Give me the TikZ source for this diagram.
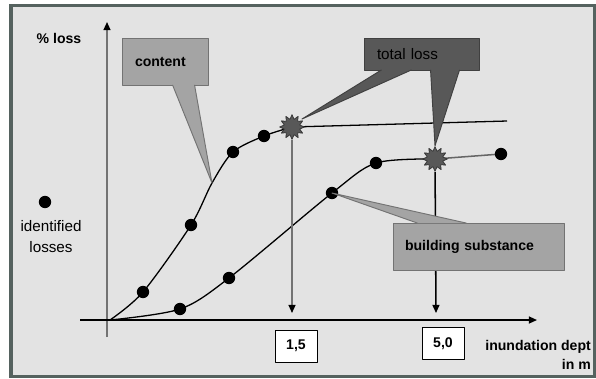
\documentclass[tikz,border=0pt]{standalone}
\usepackage{fontspec}
\setmainfont{Liberation Sans}
\usetikzlibrary{arrows.meta,shapes.geometric}
\definecolor{panel}{HTML}{E3E3E3}
\definecolor{frame}{HTML}{55625F}
\definecolor{lightbox}{HTML}{A4A4A4}
\definecolor{darkbox}{HTML}{585858}
\pgfdeclarelayer{bg}
\pgfsetlayers{bg,main}
\tikzset{
  dot/.style={circle,fill=black,inner sep=0pt,minimum size=3.7mm},
  burst/.style={star,star points=12,star point ratio=1.55,fill=darkbox,draw=black!80,line width=0.6pt,inner sep=0pt,minimum size=7.4mm},
  callbox/.style={draw=black!55,fill=lightbox,line width=0.8pt,inner xsep=0.39cm,align=left,minimum height=1.41cm,font=\bfseries\fontsize{12}{14}\selectfont},
  valbox/.style={draw=black,fill=white,line width=0.6pt,minimum width=1.26cm,minimum height=0.96cm,font=\bfseries\fontsize{12}{14}\selectfont},
  axis/.style={line width=1.3pt,-{Triangle[length=7pt,width=6pt,color=black]}},
}

\begin{document}
\begin{tikzpicture}[line join=round,x=0.03cm,y=-0.03cm]
            \useasboundingbox (0,0) rectangle (596,378);
            % marks on the two curves
            \node[dot] (c1) at (143,292) {};
            \node[dot] (c2) at (191,225) {};
            \node[dot] (c3) at (233,152) {};
            \node[dot] (c4) at (264,136) {};
            \node[dot] (b1) at (180,309) {};
            \node[dot] (b2) at (229,278) {};
            \node[dot] (b3) at (332,193) {};
            \node[dot] (b4) at (376,163) {};
            \node[dot] (b5) at (501,154) {};
            \node[burst] (s1) at (292,127) {};
            \node[burst] (s2) at (435,159) {};
            \node[dot] (leg) at (45,202) {};
            \coordinate (o) at (110,320);
            \coordinate (xl) at (80,320);
            \coordinate (xr) at (537,320);
            \coordinate (yb) at (107,337);
            \coordinate (yt) at (107,22);
            \coordinate (ctip) at (212,183);
            \coordinate (cend) at (507,121);
            \coordinate (t1) at (302,119);
            \coordinate (d1) at (292,313);
            \coordinate (d2) at (436,313);
            \begin{pgfonlayer}{bg}
                \draw [line width=2.6pt,color=frame,fill=panel] (11,5.5) rectangle (594.5,376.5);
                \draw [axis,draw=black!55] (yb) -- (yt);
                \draw [axis] (xl) -- (xr);
                \draw [line width=1.1pt] plot[smooth,tension=0.5] coordinates {(o) (c1.center) (c2.center) (ctip) (c3.center) (c4.center) (s1.center)};
                \draw [line width=1.1pt] (s1.center) -- (cend);
                \draw [line width=1.1pt] plot[smooth] coordinates {(o) (b1.center) (b2.center) (b3.center) (b4.center) (s2.center)};
                \draw [line width=1.3pt,draw=black!60] (s2.center) -- (b5.center);
                \draw [axis,draw=black!55] (s1) -- (d1);
                \draw [axis] (s2) -- (d2);
            \end{pgfonlayer}
            % callouts
            \node[callbox,text width=1.8cm] (cont) at (165,61.5) {content};
            \filldraw [draw=black!55,fill=lightbox,line width=0.8pt] ([xshift=1.53cm,yshift=0.5pt]cont.south west) -- (ctip) -- ([xshift=2.19cm,yshift=0.5pt]cont.south west);
            \node[callbox,fill=darkbox,draw=black!75,text=black,font=\fontsize{13}{15}\selectfont,text width=2.67cm,minimum height=0.96cm] (tot) at (421.5,54) {total loss};
            \filldraw [draw=black!75,fill=darkbox,line width=0.8pt] ([xshift=0.54cm,yshift=0.5pt]tot.south west) -- (t1) -- ([xshift=1.44cm,yshift=0.5pt]tot.south west);
            \filldraw [draw=black!75,fill=darkbox,line width=0.8pt] ([xshift=2.01cm,yshift=0.5pt]tot.south west) -- (s2.north) -- ([xshift=2.88cm,yshift=0.5pt]tot.south west);
            \node[callbox,text width=4.41cm,inner xsep=0.36cm] (bsub) at (478.5,246.5) {building substance};
            \filldraw [draw=black!55,fill=lightbox,line width=0.8pt] ([xshift=0.75cm,yshift=-0.5pt]bsub.north west) -- (b3.center) -- ([xshift=2.22cm,yshift=-0.5pt]bsub.north west);
            % values and labels
            \node[valbox] (v1) at (296,346) {1,5};
            \node[valbox] (v2) at (443,343.5) {5,0};
            \node[font=\bfseries\fontsize{12}{14}\selectfont] (ylab) at (59,38) {\% loss};
            \node[align=center,font=\fontsize{13}{18}\selectfont] (legtext) at (51,237) {identified\\losses};
            \node[anchor=east,align=right,inner sep=0pt,font=\bfseries\fontsize{12}{16}\selectfont] (xlab) at (591,355) {inundation dept\\in m};
        \end{tikzpicture}
\end{document}
